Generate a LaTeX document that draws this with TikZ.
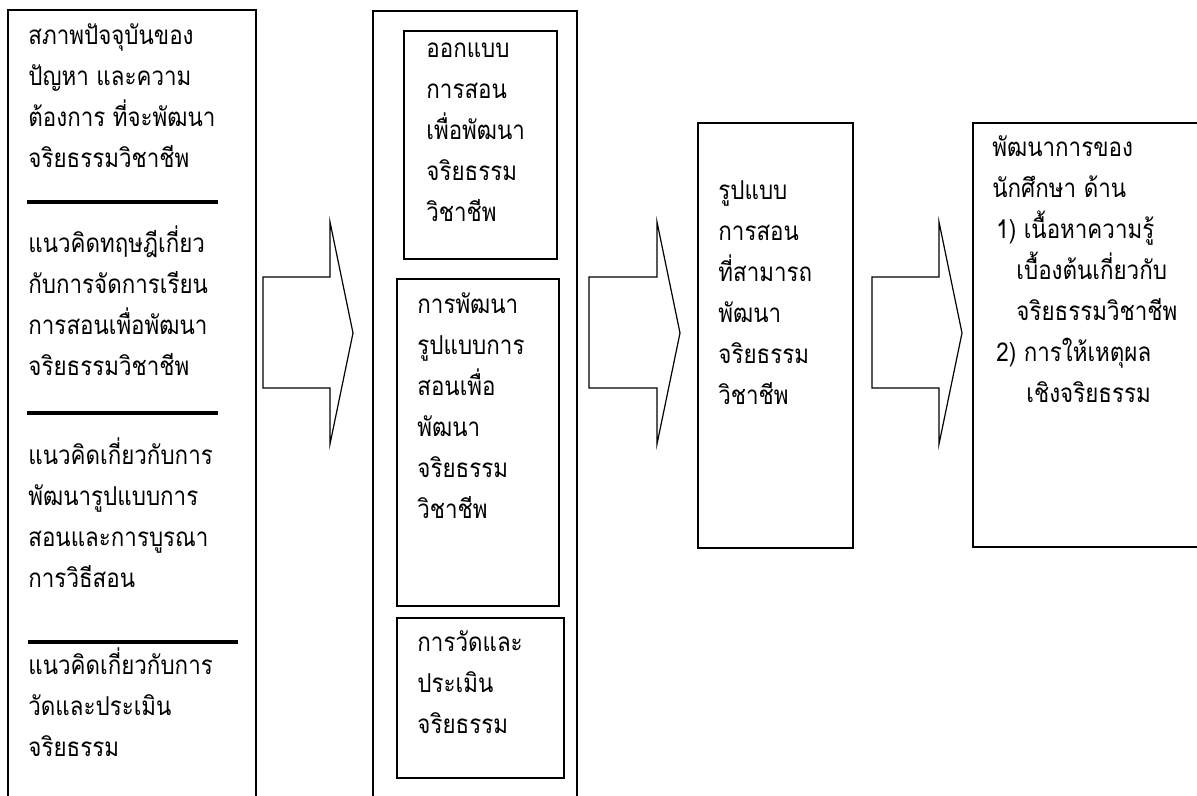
\documentclass[tikz,border=0pt]{standalone}
\usepackage{fontspec}
\newfontfamily\thaifont[Script=Thai,FakeStretch=0.86]{Loma}

\tikzset{
  txt/.style={anchor=north west,inner sep=0pt,align=left,
    font=\thaifont\fontsize{13pt}{20.5pt}\selectfont,
    execute at begin node=\strut},
  frame/.style={line width=1pt},
  boxline/.style={line width=1.3pt},
  sepline/.style={line width=2pt},
  blockarrow/.style={line width=0.6pt,line join=miter}
}

\begin{document}
\begin{tikzpicture}[x=0.5pt,y=-0.5pt]
		\fill[white] (0,0) rectangle (1197,796);
		\useasboundingbox (0,0) rectangle (1197,796);
		% left column
		\draw[frame] (8,800) |- (256,10) -- (256,800);
		\node[txt] (now) at (28,23){สภาพปัจจุบันของ\\ปัญหา และความ\\ต้องการ ที่จะพัฒนา\\จริยธรรมวิชาชีพ};
		\draw[sepline] (27,202)--(218,202);
		\node[txt] (theory) at (28,225){แนวคิดทฤษฎีเกี่ยว\\กับการจัดการเรียน\\การสอนเพื่อพัฒนา\\จริยธรรมวิชาชีพ};
		\draw[sepline] (27,413)--(218,413);
		\node[txt] (model) at (28,437){แนวคิดเกี่ยวกับการ\\พัฒนารูปแบบการ\\สอนและการบูรณา\\การวิธีสอน};
		\draw[sepline] (28,642)--(238,642);
		\node[txt] (measure) at (28,647){แนวคิดเกี่ยวกับการ\\วัดและประเมิน\\จริยธรรม};
		% arrow 1
		\draw[blockarrow] (263,277)--(330,277)--(330,222)--(353,333)--(330,444)--(330,388)--(263,388)--cycle;
		% middle column
		\draw[frame] (373,800) |- (577,11) -- (577,800);
		\draw[boxline] (404,31) rectangle (557,259);
		\node[txt] (design) at (426,43){ออกแบบ\\การสอน\\เพื่อพัฒนา\\จริยธรรม\\วิชาชีพ};
		\draw[boxline] (397,279) rectangle (559,606);
		\node[txt] (develop) at (417,292){การพัฒนา\\รูปแบบการ\\สอนเพื่อ\\พัฒนา\\จริยธรรม\\วิชาชีพ};
		\draw[boxline] (397,618) rectangle (564,778);
		\node[txt] (assess) at (417,630){การวัดและ\\ประเมิน\\จริยธรรม};
		% arrow 2
		\draw[blockarrow] (589,277)--(657,277)--(657,222)--(680,333)--(657,444)--(657,388)--(589,388)--cycle;
		% model box
		\draw[boxline] (698,123) rectangle (853,548);
		\node[txt] (result) at (718,180){รูปแบบ\\การสอน\\ที่สามารถ\\พัฒนา\\จริยธรรม\\วิชาชีพ};
		% arrow 3
		\draw[blockarrow] (872,277)--(939,277)--(939,222)--(962,333)--(939,444)--(939,388)--(872,388)--cycle;
		% outcome box
		\draw[boxline] (1210,123) -| (973,547) -- (1210,547);
		\node[txt] (outcome) at (992,135){พัฒนาการของ\\นักศึกษา ด้าน\\\hspace*{2pt}1) เนื้อหาความรู้\\\hspace*{12pt}เบื้องต้นเกี่ยวกับ\\\hspace*{12pt}จริยธรรมวิชาชีพ\\\hspace*{2pt}2) การให้เหตุผล\\\hspace*{17pt}เชิงจริยธรรม};
	\end{tikzpicture}
\end{document}
